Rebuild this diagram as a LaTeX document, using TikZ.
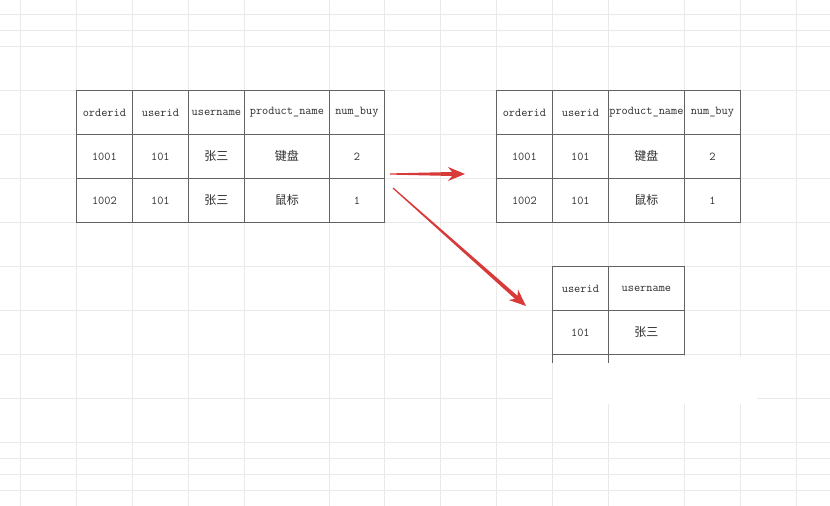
\documentclass[tikz,border=0pt]{standalone}
\usepackage{fontspec}
\usepackage{xcolor}
\usepackage{tikz}
\usetikzlibrary{calc}
\newfontfamily\cjk{Noto Sans CJK SC}
\definecolor{gridgray}{HTML}{E9E9E9}
\definecolor{tblgray}{HTML}{626262}
\definecolor{txtgray}{HTML}{2E2E2E}
\definecolor{arrred}{HTML}{D83A3A}

\begin{document}
\begin{tikzpicture}[x=1pt, y=-1pt,
    gridline/.style={draw=gridgray, line width=0.8pt},
    cell/.style={rectangle, draw=tblgray, fill=white, line width=0.8pt, anchor=north west,
                 minimum width=#1, minimum height=44pt, inner sep=0pt,
                 font=\fontsize{12}{14}\selectfont\ttfamily, text=txtgray},
    taper/.style={fill=arrred, to path={
        ($(\tikztostart)!0.6pt!90:(\tikztotarget)$)
        -- ($(\tikztotarget)!13pt!(\tikztostart)!2pt!90:(\tikztotarget)$)
        -- ($(\tikztotarget)!17pt!(\tikztostart)!7pt!90:(\tikztotarget)$)
        -- (\tikztotarget)
        -- ($(\tikztotarget)!17pt!(\tikztostart)!7pt!-90:(\tikztotarget)$)
        -- ($(\tikztotarget)!13pt!(\tikztostart)!2pt!-90:(\tikztotarget)$)
        -- ($(\tikztostart)!0.6pt!-90:(\tikztotarget)$) -- cycle}}
]
\fill[white] (0,0) rectangle (830,506);
\useasboundingbox (0,0) rectangle (830,506);

\foreach \x in {20,76,132,188,244,329,384,440,496,552,608,684,740,796}
  \draw[gridline] (\x,0) -- (\x,506);
\foreach \y in {14,30,46,90,134,178,222,266,310,354,398,442,458,474,490}
  \draw[gridline] (0,\y) -- (830,\y);
\fill[white] (553,357) rectangle (757,404);

\foreach \x/\w/\h/\r/\s [count=\i] in {76/56/orderid/1001/1002, 132/56/userid/101/101,
    188/56/username/{\cjk 张三}/{\cjk 张三}, 244/85/product\_name/{\cjk 键盘}/{\cjk 鼠标},
    329/55/num\_buy/2/1}{
  \node[cell=\w pt] (ord-\i-1) at (\x,90) {\h};
  \node[cell=\w pt] (ord-\i-2) at (\x,134) {\r};
  \node[cell=\w pt] (ord-\i-3) at (\x,178) {\s};
}

\foreach \x/\w/\h/\r/\s [count=\i] in {496/56/orderid/1001/1002, 552/56/userid/101/101,
    608/76/product\_name/{\cjk 键盘}/{\cjk 鼠标}, 684/56/num\_buy/2/1}{
  \node[cell=\w pt] (buy-\i-1) at (\x,90) {\h};
  \node[cell=\w pt] (buy-\i-2) at (\x,134) {\r};
  \node[cell=\w pt] (buy-\i-3) at (\x,178) {\s};
}

\foreach \x/\w/\h/\r [count=\i] in {552/56/userid/101, 608/76/username/{\cjk 张三}}{
  \node[cell=\w pt] (usr-\i-1) at (\x,266) {\h};
  \node[cell=\w pt] (usr-\i-2) at (\x,310) {\r};
}
\draw[tblgray, line width=0.8pt] (usr-1-2.south west) -- ++(0,8);
\draw[tblgray, line width=0.8pt] (usr-2-2.south west) -- ++(0,8);

\coordinate (a1s) at (390,174);
\coordinate (a1e) at (465,174);
\coordinate (a2s) at (393,188);
\coordinate (a2e) at (526,306);
\path[taper] (a1s) to (a1e);
\path[taper] (a2s) to (a2e);
\end{tikzpicture}
\end{document}
